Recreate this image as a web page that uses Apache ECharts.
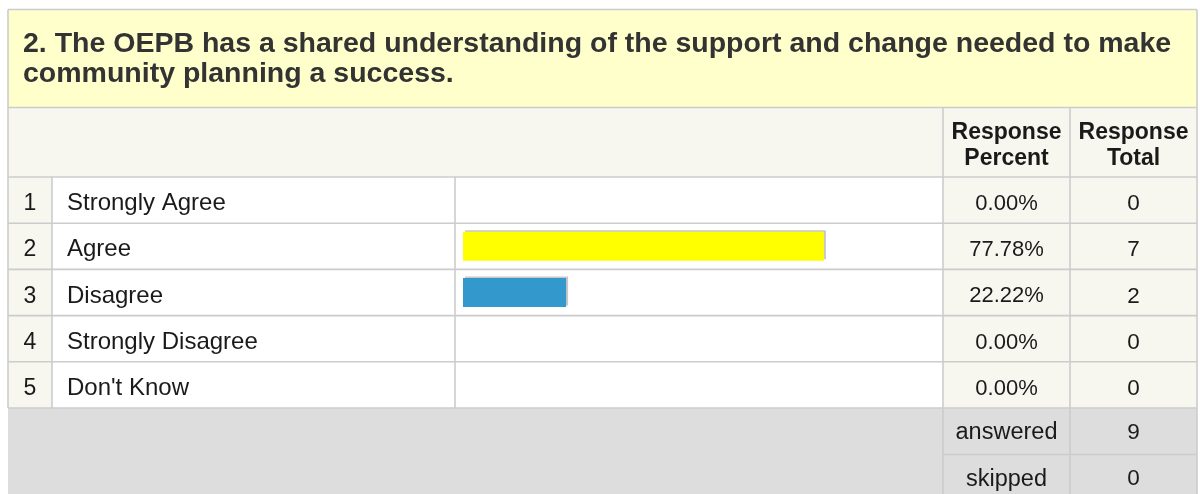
<!DOCTYPE html>
<html>
<head>
<meta charset="utf-8">
<script src="https://cdn.jsdelivr.net/npm/echarts@6/dist/echarts.min.js"></script>
<style>
html,body{margin:0;padding:0;background:#fff;}
#c{width:1200px;height:494px;}
</style>
</head>
<body>
<div id="c"></div>
<script>
// ---- data ----
var titleLines = ["2. The OEPB has a shared understanding of the support and change needed to make", "community planning a success."];
var headerPercent = ["Response", "Percent"];
var headerTotal = ["Response", "Total"];
var rowNumbers = ["1", "2", "3", "4", "5"];
var categories = ["Strongly Agree", "Agree", "Disagree", "Strongly Disagree", "Don't Know"];
var percents = [0.00, 77.78, 22.22, 0.00, 0.00];
var totals = [0, 7, 2, 0, 0];
var barColors = ["#FFFF00", "#FFFF00", "#3399CC", "#3399CC", "#3399CC"];
var summaryLabels = ["answered", "skipped"];
var summaryValues = [9, 0];

// ---- layout ----
var L = 8, R = 1197, TOP = 9.5;
var TITLE_B = 107.5, HEAD_B = 177, ROW_H = 46.2;
var C1 = 52, C2 = 455, C3 = 943, C4 = 1070;
var ROWS_B = HEAD_B + ROW_H * categories.length;
var SUM_H = 46.5;
var LINE = '#CCCCCC', LW = 1.6;
var FONT = '"Liberation Sans", Arial, Helvetica, sans-serif';
var PALE = '#F7F7F0';

var g = [];
function rect(x, y, w, h, fill, z) { g.push({type:'rect', z: z || 0, silent:true, shape:{x:x, y:y, width:w, height:h}, style:{fill:fill}}); }
function hline(x1, x2, y) { g.push({type:'line', z: 20, silent:true, shape:{x1:x1, y1:y, x2:x2, y2:y}, style:{stroke:LINE, lineWidth:LW}}); }
function vline(x, y1, y2) { g.push({type:'line', z: 20, silent:true, shape:{x1:x, y1:y1, x2:x, y2:y2}, style:{stroke:LINE, lineWidth:LW}}); }
function text(s, x, y, opt) {
  g.push({type:'text', z: 30, silent:true, x:x, y:y, style:{text:s, fontSize:opt.size, fontWeight:opt.weight || 'normal', fontFamily:FONT, fill:opt.color || '#1a1a1a', align:opt.align || 'center', verticalAlign:'middle'}});
}

// backgrounds
rect(L, TOP, R - L, TITLE_B - TOP, '#FFFFCC');
rect(L, TITLE_B, R - L, HEAD_B - TITLE_B, PALE);
for (var i = 0; i < categories.length; i++) {
  var y0 = HEAD_B + i * ROW_H;
  rect(L, y0, C1 - L, ROW_H, PALE);
  rect(C1, y0, C3 - C1, ROW_H, '#FFFFFF');
  rect(C3, y0, R - C3, ROW_H, PALE);
}
rect(L, ROWS_B, R - L, 494 - ROWS_B + 10, '#DDDDDD');

// title
text(titleLines[0], 23, 44, {size:28.5, weight:'bold', color:'#333333', align:'left'});
text(titleLines[1], 23, 74.5, {size:28.5, weight:'bold', color:'#333333', align:'left'});
// header
text(headerPercent[0], (C3 + C4) / 2, 132.5, {size:23, weight:'bold'});
text(headerPercent[1], (C3 + C4) / 2, 158.5, {size:23, weight:'bold'});
text(headerTotal[0], (C4 + R) / 2, 132.5, {size:23, weight:'bold'});
text(headerTotal[1], (C4 + R) / 2, 158.5, {size:23, weight:'bold'});

// rows
for (var i = 0; i < categories.length; i++) {
  var cy = HEAD_B + (i + 0.5) * ROW_H + 3.8;
  text(rowNumbers[i], (L + C1) / 2, cy, {size:23});
  text(percents[i].toFixed(2) + '%', (C3 + C4) / 2, cy, {size:22});
  text(String(totals[i]), (C4 + R) / 2, cy, {size:22.5});
}
// summary
for (var j = 0; j < summaryLabels.length; j++) {
  var cy2 = ROWS_B + (j + 0.5) * SUM_H + 1.5;
  text(summaryLabels[j], (C3 + C4) / 2, cy2, {size:23.5});
  text(String(summaryValues[j]), (C4 + R) / 2, cy2, {size:22.5});
}

// grid lines
hline(L, R, TOP);
hline(L, R, TITLE_B);
for (var k = 0; k <= categories.length; k++) hline(L, R, HEAD_B + k * ROW_H);
hline(C3, R, ROWS_B + SUM_H);
vline(L, TOP, ROWS_B);
vline(R, TOP, 494);
vline(C3, TITLE_B, 494);
vline(C4, TITLE_B, 494);
vline(C1, HEAD_B, ROWS_B);
vline(C2, HEAD_B, ROWS_B);

var chart = echarts.init(document.getElementById('c'), null, {renderer:'canvas'});
chart.setOption({
  animation: false,
  backgroundColor: '#ffffff',
  graphic: {elements: g},
  grid: {left: 463, top: HEAD_B, width: 464, height: ROW_H * categories.length, containLabel: false},
  xAxis: {type:'value', min:0, max:100, show:false},
  yAxis: {
    type:'category', inverse:true, data:categories,
    axisLine:{show:false}, axisTick:{show:false}, splitLine:{show:false},
    axisLabel:{show:true, margin:396, align:'left', verticalAlign:'top', lineHeight:7, fontSize:24, color:'#1a1a1a', fontFamily:FONT},
    z: 40
  },
  series: [{
    type:'bar', barWidth:29,
    data: percents.map(function(v, i){ return {value:v, itemStyle:{color:barColors[i]}}; }),
    itemStyle:{shadowColor:'#C8C8C8', shadowOffsetX:2, shadowOffsetY:-1.5, shadowBlur:0},
    z: 25
  }]
});
</script>
</body>
</html>
